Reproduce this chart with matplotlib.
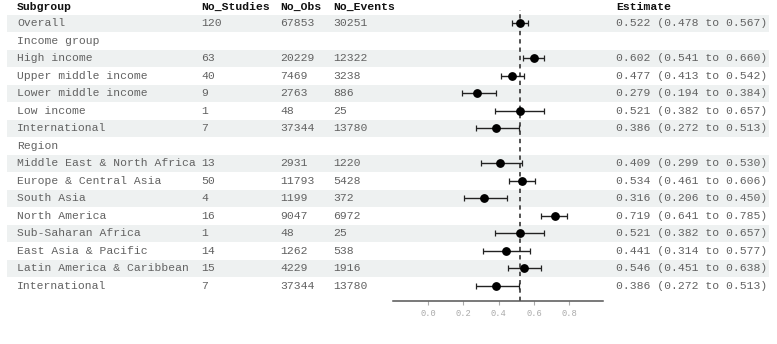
import matplotlib
matplotlib.use("Agg")
import matplotlib.pyplot as plt
import matplotlib.transforms as mtransforms
from matplotlib.patches import Rectangle

# rows of the table (None = group heading row)
subgroups = ["Overall", "Income group", "High income", "Upper middle income",
             "Lower middle income", "Low income", "International", "Region",
             "Middle East & North Africa", "Europe & Central Asia", "South Asia",
             "North America", "Sub-Saharan Africa", "East Asia & Pacific",
             "Latin America & Caribbean", "International"]
no_studies = [120, None, 63, 40, 9, 1, 7, None, 13, 50, 4, 16, 1, 14, 15, 7]
no_obs = [67853, None, 20229, 7469, 2763, 48, 37344, None, 2931, 11793, 1199,
          9047, 48, 1262, 4229, 37344]
no_events = [30251, None, 12322, 3238, 886, 25, 13780, None, 1220, 5428, 372,
             6972, 25, 538, 1916, 13780]
estimate = [0.522, None, 0.602, 0.477, 0.279, 0.521, 0.386, None, 0.409, 0.534,
            0.316, 0.719, 0.521, 0.441, 0.546, 0.386]
ci_low = [0.478, None, 0.541, 0.413, 0.194, 0.382, 0.272, None, 0.299, 0.461,
          0.206, 0.641, 0.382, 0.314, 0.451, 0.272]
ci_high = [0.567, None, 0.660, 0.542, 0.384, 0.657, 0.513, None, 0.530, 0.606,
           0.450, 0.785, 0.657, 0.577, 0.638, 0.513]
overall_est = 0.522

W, H = 777, 344
mono = "Liberation Mono"
txt_col = "#626262"

fig = plt.figure(figsize=(W / 100, H / 100), dpi=100)
ax = fig.add_axes([392.7 / W, (H - 301) / H, (602.7 - 392.7) / W, 301 / H])
ax.patch.set_visible(False)

# row i sits at pixel 23.3 + 17.5*i
ax.set_ylim(277.7 / 17.5, -23.3 / 17.5)
ax.set_xlim(-0.2, 0.99)

trans = mtransforms.blended_transform_factory(fig.transFigure, ax.transData)

# shaded bands on every other row
for i in range(0, len(subgroups), 2):
    ax.add_patch(Rectangle((7.3 / W, i - 0.477), (769 - 7.3) / W, 0.955,
                           transform=trans, facecolor="#eef1f1", edgecolor="none",
                           clip_on=False, zorder=0))

# header
header_y = -0.95
for x, lab in [(17, "Subgroup"), (201, "No_Studies"), (280, "No_Obs"),
               (333, "No_Events"), (616, "Estimate")]:
    ax.text(x / W, header_y, lab, transform=trans, family=mono, fontsize=8.2,
            fontweight="bold", color="#111111", va="center", ha="left")

fs = 8.2
for i, name in enumerate(subgroups):
    ax.text(17 / W, i, name, transform=trans, family=mono, fontsize=fs,
            color=txt_col, va="center", ha="left")
    if no_studies[i] is None:
        continue
    ax.text(201 / W, i, str(no_studies[i]), transform=trans, family=mono,
            fontsize=fs, color=txt_col, va="center", ha="left")
    ax.text(280 / W, i, str(no_obs[i]), transform=trans, family=mono,
            fontsize=fs, color=txt_col, va="center", ha="left")
    ax.text(333 / W, i, str(no_events[i]), transform=trans, family=mono,
            fontsize=fs, color=txt_col, va="center", ha="left")
    s = "%.3f (%.3f to %.3f)" % (estimate[i], ci_low[i], ci_high[i])
    ax.text(616 / W, i, s, transform=trans, family=mono, fontsize=fs,
            color=txt_col, va="center", ha="left")
    ax.errorbar(estimate[i], i,
                xerr=[[estimate[i] - ci_low[i]], [ci_high[i] - estimate[i]]],
                fmt="o", color="black", ecolor="#222222", elinewidth=1.0,
                capsize=2.0, capthick=0.9, markersize=5.3, zorder=3)

ax.axvline(overall_est, ymax=(301 - 10) / 301, color="#444444", linestyle="--",
           linewidth=1.3, dashes=(2.4, 2.2), zorder=2)

for side in ["top", "right", "left"]:
    ax.spines[side].set_visible(False)
ax.spines["bottom"].set_color("#555555")
ax.spines["bottom"].set_linewidth(1.1)
ax.set_yticks([])
ax.set_xticks([0.0, 0.2, 0.4, 0.6, 0.8])
ax.set_xticklabels(["0.0", "0.2", "0.4", "0.6", "0.8"], family=mono)
ax.tick_params(axis="x", colors="#aaaaaa", labelsize=6.3, length=3, width=0.8,
               labelcolor="#aaaaaa", pad=3)

fig.savefig("out.png", dpi=100)
